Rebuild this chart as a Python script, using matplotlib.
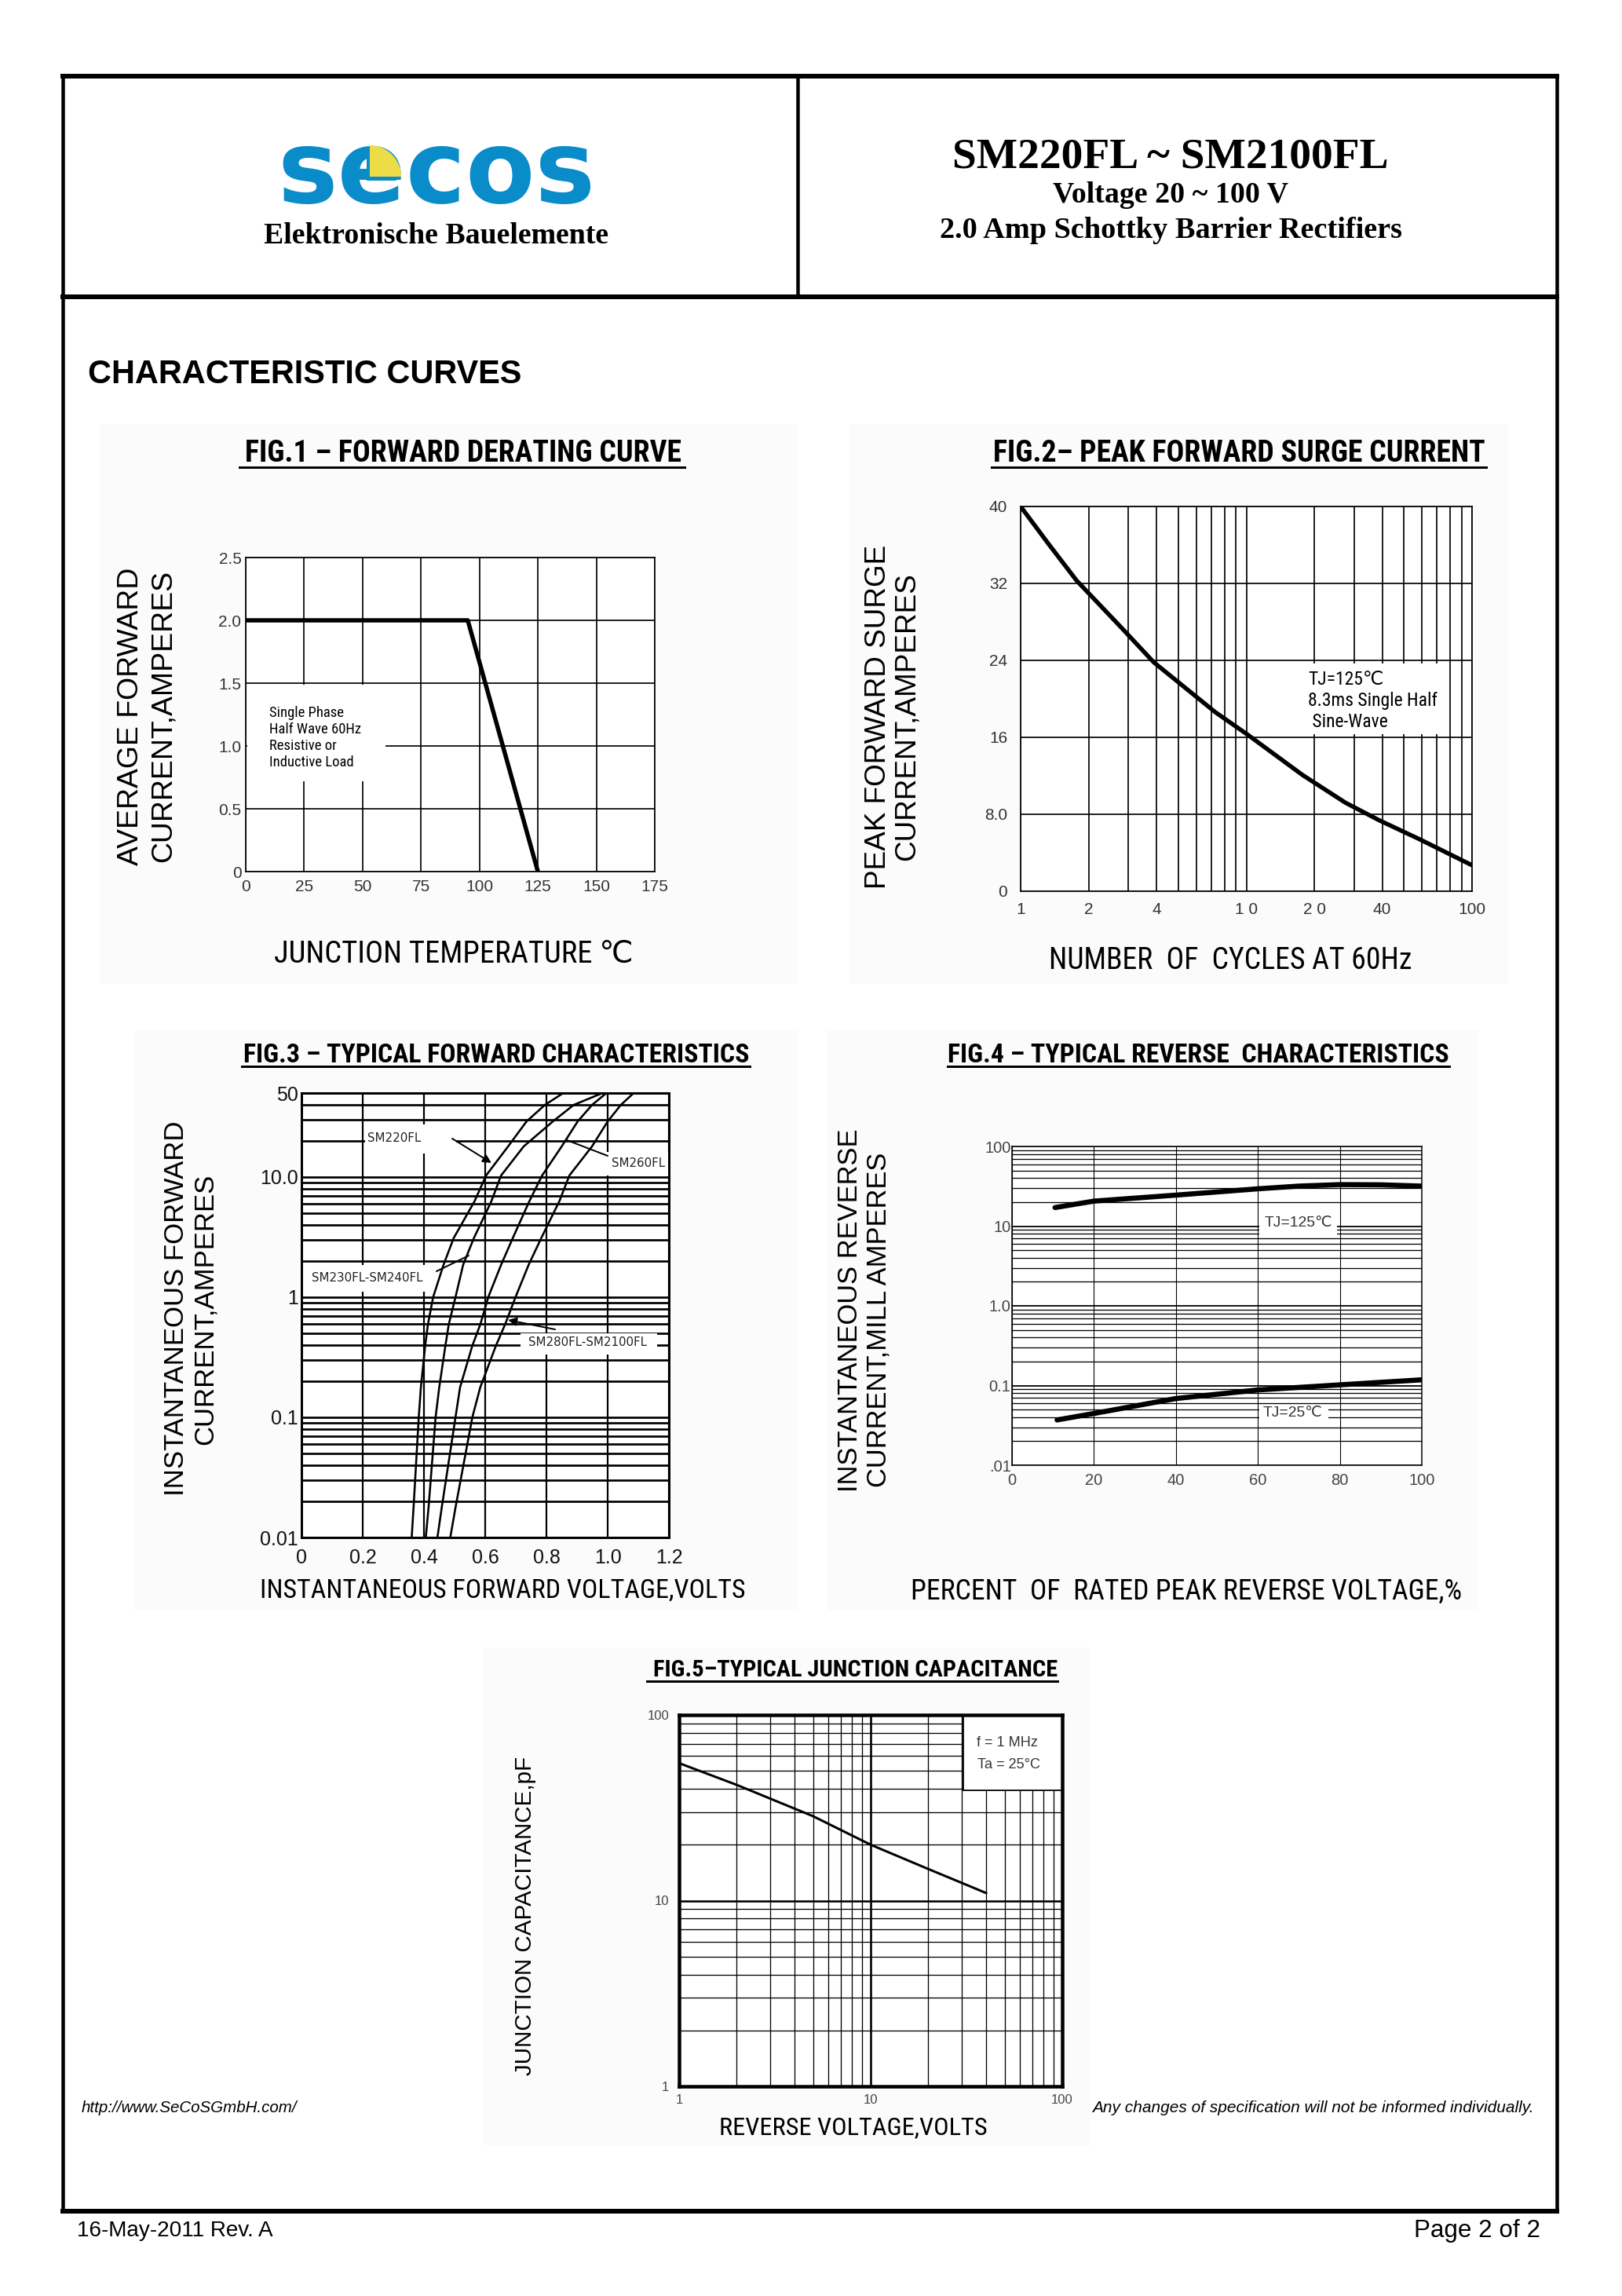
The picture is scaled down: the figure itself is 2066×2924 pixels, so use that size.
import numpy as np
import matplotlib
matplotlib.use("Agg")
import matplotlib.pyplot as plt
from matplotlib.patches import Rectangle, Wedge
from matplotlib.ticker import LogLocator, NullFormatter

W, H, DPI = 2066, 2924, 100
SANS = ["Liberation Sans", "DejaVu Sans"]
NARROW = ["Liberation Sans Narrow", "Roboto Condensed", "Liberation Sans", "DejaVu Sans"]
SERIF = ["Liberation Serif", "DejaVu Serif"]
plt.rcParams["font.family"] = SANS

# ---- values ----
# fig.1 forward derating
derate_temp = [0, 95, 125]
derate_amps = [2.0, 2.0, 0.0]
derate_xticks = [0, 25, 50, 75, 100, 125, 150, 175]
derate_yticks = [0, 0.5, 1.0, 1.5, 2.0, 2.5]
derate_ylabels = ["0", "0.5", "1.0", "1.5", "2.0", "2.5"]

# fig.2 peak forward surge current
surge_cycles = [1, 1.33, 1.77, 2.77, 3.89, 7.3, 10.1, 17.7, 27.5, 38.6, 58.6, 100]
surge_amps = [40, 36.1, 32.3, 27.5, 23.8, 18.6, 16.3, 12.1, 9.2, 7.4, 5.4, 2.7]
surge_xticks = [1, 2, 4, 10, 20, 40, 100]
surge_xlabels = ["1", "2", "4", "1 0", "2 0", "40", "100"]
surge_yticks = [0, 8, 16, 24, 32, 40]
surge_ylabels = ["0", "8.0", "16", "24", "32", "40"]

# fig.3 typical forward characteristics
fwd_amps = [0.01, 0.0177, 0.1, 0.178, 0.394, 0.593, 1.0, 1.86, 3.1, 6.27, 10.3, 18, 29, 39.8, 50]
fwd_v_220 = [0.360, 0.366, 0.383, 0.390, 0.404, 0.413, 0.430, 0.464, 0.497, 0.565, 0.603, 0.675, 0.735, 0.795, 0.855]
fwd_v_240 = [0.406, 0.415, 0.438, 0.450, 0.470, 0.481, 0.503, 0.528, 0.563, 0.620, 0.652, 0.726, 0.821, 0.889, 0.983]
fwd_v_260 = [0.444, 0.458, 0.503, 0.518, 0.558, 0.584, 0.610, 0.652, 0.690, 0.744, 0.786, 0.850, 0.902, 0.949, 0.996]
fwd_v_2100 = [0.486, 0.503, 0.558, 0.584, 0.635, 0.665, 0.699, 0.742, 0.783, 0.842, 0.875, 0.949, 1.000, 1.043, 1.085]
fwd_xticks = [0, 0.2, 0.4, 0.6, 0.8, 1.0, 1.2]
fwd_xlabels = ["0", "0.2", "0.4", "0.6", "0.8", "1.0", "1.2"]
fwd_yticks = [0.01, 0.1, 1, 10, 50]
fwd_ylabels = ["0.01", "0.1", "1", "10.0", "50"]

# fig.4 typical reverse characteristics
rev_pct_hot = [10.5, 20, 40, 60, 70, 80, 90, 100]
rev_ma_hot = [17.1, 20.6, 24.5, 29.4, 31.8, 33.2, 33.0, 31.8]
rev_pct_cold = [11, 20, 40, 60, 80, 100]
rev_ma_cold = [0.037, 0.0446, 0.0687, 0.088, 0.102, 0.118]
rev_xticks = [0, 20, 40, 60, 80, 100]
rev_yticks = [0.01, 0.1, 1, 10, 100]
rev_ylabels = [".01", "0.1", "1.0", "10", "100"]

# fig.5 typical junction capacitance
cap_volts = [1, 2, 5, 10, 20, 40]
cap_pf = [55, 42, 28.5, 20, 14.8, 11]
cap_ticks = [1, 10, 100]
cap_labels = ["1", "10", "100"]


fig = plt.figure(figsize=(W / DPI, H / DPI), dpi=DPI)
page = fig.add_axes([0, 0, 1, 1])
page.set_xlim(0, W)
page.set_ylim(H, 0)
page.axis("off")
rend = fig.canvas.get_renderer()


def px(v):
    return v * 72 / DPI


def put(x, y, s, size, width=None, rot=0, family=SANS, ax=None, **kw):
    kw.setdefault("ha", "center")
    kw.setdefault("va", "center")
    t = (ax or page).text(x, y, s, fontsize=size, family=family,
                          transform=page.transData, **kw)
    if width:
        t.set_fontsize(size * width / t.get_window_extent(rend).width)
    t.set_rotation(rot)
    return t


def chart(l, t, r, b):
    ax = fig.add_axes([l / W, 1 - b / H, (r - l) / W, (b - t) / H])
    ax.set_axisbelow(True)
    ax.tick_params(which="both", length=0)
    return ax


def white_box(ax, x0, y0, x1, y1, ec="none", lw=0):
    ax.add_patch(Rectangle((x0, y0), x1 - x0, y1 - y0, fc="white", ec=ec,
                           lw=lw, zorder=1, transform=page.transData))


def fig_title(cx, cy, s, width, x0, x1, yl):
    put(cx, cy, s, 26, width=width, family=NARROW, weight="bold", stretch="condensed")
    page.plot([x0, x1], [yl, yl], color="k", lw=px(3))


def ylab(x, y, s, size, width=None):
    return put(x, y, s, size, width=width, rot=90).get_fontsize()


# ---- page frame ----
for seg, w in [(([80, 1983], [97, 97]), 6), (([80, 1983], [2816, 2816]), 6),
               (([80, 80], [97, 2816]), 4.5), (([1983, 1983], [97, 2816]), 4.5),
               (([80, 1983], [378, 378]), 6), (([1016, 1016], [97, 378]), 4.5)]:
    page.plot(*seg, color="k", lw=px(w), solid_capstyle="projecting")

# faint scan backgrounds behind each figure
for (x0, y0, x1, y1) in [(127, 540, 1016, 1253), (1081, 540, 1920, 1253),
                         (172, 1312, 1016, 2051), (1053, 1312, 1883, 2051),
                         (615, 2098, 1389, 2732)]:
    page.add_patch(Rectangle((x0, y0), x1 - x0, y1 - y0, fc="#fbfbfb", ec="none"))

# ---- header ----
put(556, 222, "secos", 100, width=405, family=["DejaVu Sans"], weight="bold",
    color="#0a8ccb")
page.add_patch(Wedge((467, 230), 38, 270, 360, fc="#0a8ccb", ec="none", zorder=4))
page.add_patch(Wedge((471, 225), 40, 270, 360, fc="#ecdc45", ec="none", zorder=5))
put(556, 310, "Elektronische Bauelemente", 26, width=440, family=SERIF,
    weight="bold", va="baseline")
put(1491, 213, "SM220FL ~ SM2100FL", 38, width=554, family=SERIF, weight="bold",
    va="baseline")
put(1491, 258, "Voltage 20 ~ 100 V", 26, width=299, family=SERIF, weight="bold",
    va="baseline")
put(1491, 303, "2.0 Amp Schottky Barrier Rectifiers", 26, width=590, family=SERIF,
    weight="bold", va="baseline")
put(112, 488, "CHARACTERISTIC CURVES", 30, width=552, weight="bold", ha="left",
    va="baseline")

# ---- FIG.1 ----
fig_title(590, 577, "FIG.1 \u2013 FORWARD DERATING CURVE", 557, 305, 872, 595)
ax1 = chart(313, 710, 834, 1110)
ax1.plot(derate_temp, derate_amps, color="k", lw=px(5.5), zorder=3)
ax1.set_xlim(0, 175)
ax1.set_ylim(0, 2.5)
ax1.set_xticks(derate_xticks)
ax1.set_yticks(derate_yticks, derate_ylabels)
ax1.grid(color="k", lw=px(1.7))
for sp in ax1.spines.values():
    sp.set_linewidth(px(1.7))
ax1.tick_params(axis="both", labelsize=15, labelcolor="#333")
ax1.tick_params(axis="y", pad=4)
ax1.tick_params(axis="x", pad=7)
white_box(ax1, 315, 872, 491, 995)
note_lines = ["Single Phase", "Half Wave 60Hz", "Resistive or", "Inductive Load"]
fs = put(343, 929, note_lines[1], 14, width=118, family=NARROW, ax=ax1,
         ha="left", zorder=4).get_fontsize()
for i in (0, 2, 3):
    put(343, 908 + 21 * i, note_lines[i], fs, family=NARROW, ax=ax1, ha="left", zorder=4)
s = ylab(167, 912, "AVERAGE FORWARD", 26, width=380)
ylab(208, 912, "CURRENT,AMPERES", s)
put(578, 1215, "JUNCTION TEMPERATURE \u2103", 26, width=457, family=NARROW)

# ---- FIG.2 ----
fig_title(1578, 577, "FIG.2\u2013 PEAK FORWARD SURGE CURRENT", 628, 1263, 1893, 595)
ax2 = chart(1300, 645, 1875, 1135)
ax2.plot(surge_cycles, surge_amps, color="k", lw=px(5.5), zorder=3,
         solid_capstyle="round", solid_joinstyle="round")
ax2.set_xscale("log")
ax2.set_xlim(1, 100)
ax2.set_ylim(0, 40)
ax2.set_xticks(surge_xticks, surge_xlabels)
ax2.xaxis.set_minor_locator(LogLocator(subs=np.arange(2, 10)))
ax2.xaxis.set_minor_formatter(NullFormatter())
ax2.set_yticks(surge_yticks, surge_ylabels)
ax2.grid(which="both", color="k", lw=px(1.7))
for sp in ax2.spines.values():
    sp.set_linewidth(px(1.7))
ax2.tick_params(which="both", labelsize=15, labelcolor="#333")
ax2.tick_params(axis="y", pad=12)
ax2.tick_params(axis="x", pad=10)
white_box(ax2, 1660, 845, 1846, 935)
fs = put(1666, 892, "8.3ms Single Half", 17, width=165, family=NARROW, ax=ax2,
         ha="left", zorder=4).get_fontsize()
put(1666, 865, "TJ=125\u2103", fs, family=NARROW, ax=ax2, ha="left", zorder=4)
put(1666, 919, " Sine-Wave", fs, family=NARROW, ax=ax2, ha="left", zorder=4)
s = ylab(1118, 913, "PEAK FORWARD SURGE", 26, width=440)
ylab(1155, 913, "CURRENT,AMPERES", s)
put(1567, 1223, "NUMBER  OF  CYCLES AT 60Hz", 26, width=463, family=NARROW)

# ---- FIG.3 ----
fig_title(632, 1344, "FIG.3 \u2013 TYPICAL FORWARD CHARACTERISTICS", 644, 308, 955, 1358)
ax3 = chart(384, 1392, 852, 1958)
for v in [fwd_v_220, fwd_v_240, fwd_v_260, fwd_v_2100]:
    ax3.plot(v, fwd_amps, color="k", lw=px(2.6), zorder=3, solid_joinstyle="round")
ax3.set_yscale("log")
ax3.set_xlim(0, 1.2)
ax3.set_ylim(0.01, 50)
ax3.set_xticks(fwd_xticks, fwd_xlabels)
ax3.set_yticks(fwd_yticks, fwd_ylabels)
ax3.yaxis.set_minor_locator(LogLocator(subs=np.arange(2, 10)))
ax3.yaxis.set_minor_formatter(NullFormatter())
ax3.grid(axis="y", which="both", color="k", lw=px(2.7))
ax3.grid(axis="x", color="k", lw=px(2.2))
for sp in ax3.spines.values():
    sp.set_linewidth(px(3))
ax3.tick_params(which="both", labelsize=18, labelcolor="#111")
ax3.tick_params(axis="y", pad=3)
ax3.tick_params(axis="x", pad=10)
white_box(ax3, 465, 1432, 581, 1469)
white_box(ax3, 772, 1467, 851, 1497)
white_box(ax3, 389, 1611, 555, 1645)
white_box(ax3, 663, 1698, 837, 1725)
fs = put(748, 1709, "SM280FL-SM2100FL", 11, width=150, family=["DejaVu Sans"], ax=ax3,
         color="#222", zorder=4).get_fontsize()
put(502, 1449, "SM220FL", fs, family=["DejaVu Sans"], ax=ax3, color="#222", zorder=4)
put(813, 1482, "SM260FL", fs, family=["DejaVu Sans"], ax=ax3, color="#222", zorder=4)
put(468, 1627, "SM230FL-SM240FL", fs, family=["DejaVu Sans"], ax=ax3, color="#222", zorder=4)
arrow = dict(arrowstyle="-|>", color="k", lw=px(2), mutation_scale=16, shrinkA=0, shrinkB=0)
plain = dict(arrowstyle="-", color="k", lw=px(2), shrinkA=0, shrinkB=0)
ax3.annotate("", xy=(626, 1481), xytext=(576, 1450), xycoords=page.transData,
             textcoords=page.transData, arrowprops=arrow, zorder=4)
ax3.annotate("", xy=(647, 1681), xytext=(707, 1693), xycoords=page.transData,
             textcoords=page.transData, arrowprops=arrow, zorder=4)
ax3.annotate("", xy=(774, 1472), xytext=(722, 1452), xycoords=page.transData,
             textcoords=page.transData, arrowprops=plain, zorder=4)
ax3.annotate("", xy=(597, 1599), xytext=(556, 1619), xycoords=page.transData,
             textcoords=page.transData, arrowprops=plain, zorder=4)
s = ylab(224, 1666, "INSTANTANEOUS FORWARD", 24, width=479)
ylab(261, 1667, "CURRENT,AMPERES", s)
put(640, 2026, "INSTANTANEOUS FORWARD VOLTAGE,VOLTS", 26, width=620, family=NARROW)

# ---- FIG.4 ----
fig_title(1526, 1344, "FIG.4 \u2013 TYPICAL REVERSE  CHARACTERISTICS", 639, 1207, 1846, 1358)
ax4 = chart(1289, 1460, 1811, 1866)
ax4.plot(rev_pct_hot, rev_ma_hot, color="k", lw=px(6.5), zorder=3,
         solid_capstyle="round")
ax4.plot(rev_pct_cold, rev_ma_cold, color="k", lw=px(6.5), zorder=3,
         solid_capstyle="round")
ax4.set_yscale("log")
ax4.set_xlim(0, 100)
ax4.set_ylim(0.01, 100)
ax4.set_xticks(rev_xticks)
ax4.set_yticks(rev_yticks, rev_ylabels)
ax4.yaxis.set_minor_locator(LogLocator(subs=np.arange(2, 10)))
ax4.yaxis.set_minor_formatter(NullFormatter())
ax4.grid(axis="y", which="minor", color="k", lw=px(1.3))
ax4.grid(axis="y", which="major", color="k", lw=px(1.8))
ax4.grid(axis="x", color="k", lw=px(1.1))
for sp in ax4.spines.values():
    sp.set_linewidth(px(1.5))
ax4.tick_params(which="both", labelsize=14.5, labelcolor="#444")
ax4.tick_params(axis="y", pad=1)
ax4.tick_params(axis="x", pad=7)
white_box(ax4, 1604, 1545, 1703, 1574)
white_box(ax4, 1604, 1789, 1692, 1810)
fs = put(1654, 1557, "TJ=125\u2103", 14, width=87, ax=ax4, color="#333",
         zorder=4).get_fontsize()
put(1647, 1799, "TJ=25\u2103", fs, ax=ax4, color="#333", zorder=4)
s = ylab(1083, 1669, "INSTANTANEOUS REVERSE", 24, width=464)
ylab(1119, 1681, "CURRENT,MILL AMPERES", s)
put(1511, 2027, "PERCENT  OF  RATED PEAK REVERSE VOLTAGE,%", 26, width=702,
    family=NARROW)

# ---- FIG.5 ----
fig_title(1090, 2127, "FIG.5\u2013TYPICAL JUNCTION CAPACITANCE", 515, 824, 1347, 2141)
ax5 = chart(865, 2184, 1353, 2657)
ax5.plot(cap_volts, cap_pf, color="k", lw=px(3), zorder=3)
ax5.set_xscale("log")
ax5.set_yscale("log")
ax5.set_xlim(1, 100)
ax5.set_ylim(1, 100)
ax5.set_xticks(cap_ticks, cap_labels)
ax5.set_yticks(cap_ticks, cap_labels)
for a in (ax5.xaxis, ax5.yaxis):
    a.set_minor_locator(LogLocator(subs=np.arange(2, 10)))
    a.set_minor_formatter(NullFormatter())
ax5.grid(which="minor", color="k", lw=px(1.3))
ax5.grid(which="major", color="k", lw=px(2.6))
for sp in ax5.spines.values():
    sp.set_linewidth(px(4.5))
ax5.tick_params(which="both", labelsize=12, labelcolor="#444")
ax5.tick_params(axis="y", pad=9)
ax5.tick_params(axis="x", pad=7)
white_box(ax5, 1227, 2184, 1353, 2280, ec="k", lw=px(1.8))
fs = put(1283, 2219, "f = 1 MHz", 13, width=78, ax=ax5, color="#333",
         zorder=4).get_fontsize()
put(1285, 2247, "Ta = 25\u00b0C", fs, ax=ax5, color="#333", zorder=4)
ylab(669, 2440, "JUNCTION CAPACITANCE,pF", 21, width=406)
put(1087, 2710, "REVERSE VOLTAGE,VOLTS", 26, width=342, family=NARROW)

# ---- footer ----
put(104, 2684, "http://www.SeCoSGmbH.com/", 15, width=275, style="italic", ha="left")
put(1391, 2684, "Any changes of specification will not be informed individually.", 14,
    width=563, style="italic", ha="left")
put(98, 2841, "16-May-2011 Rev. A", 19, width=250, ha="left")
put(1962, 2841, "Page 2 of 2", 19, width=161, ha="right")

fig.savefig("out.png", dpi=DPI, facecolor="white")
